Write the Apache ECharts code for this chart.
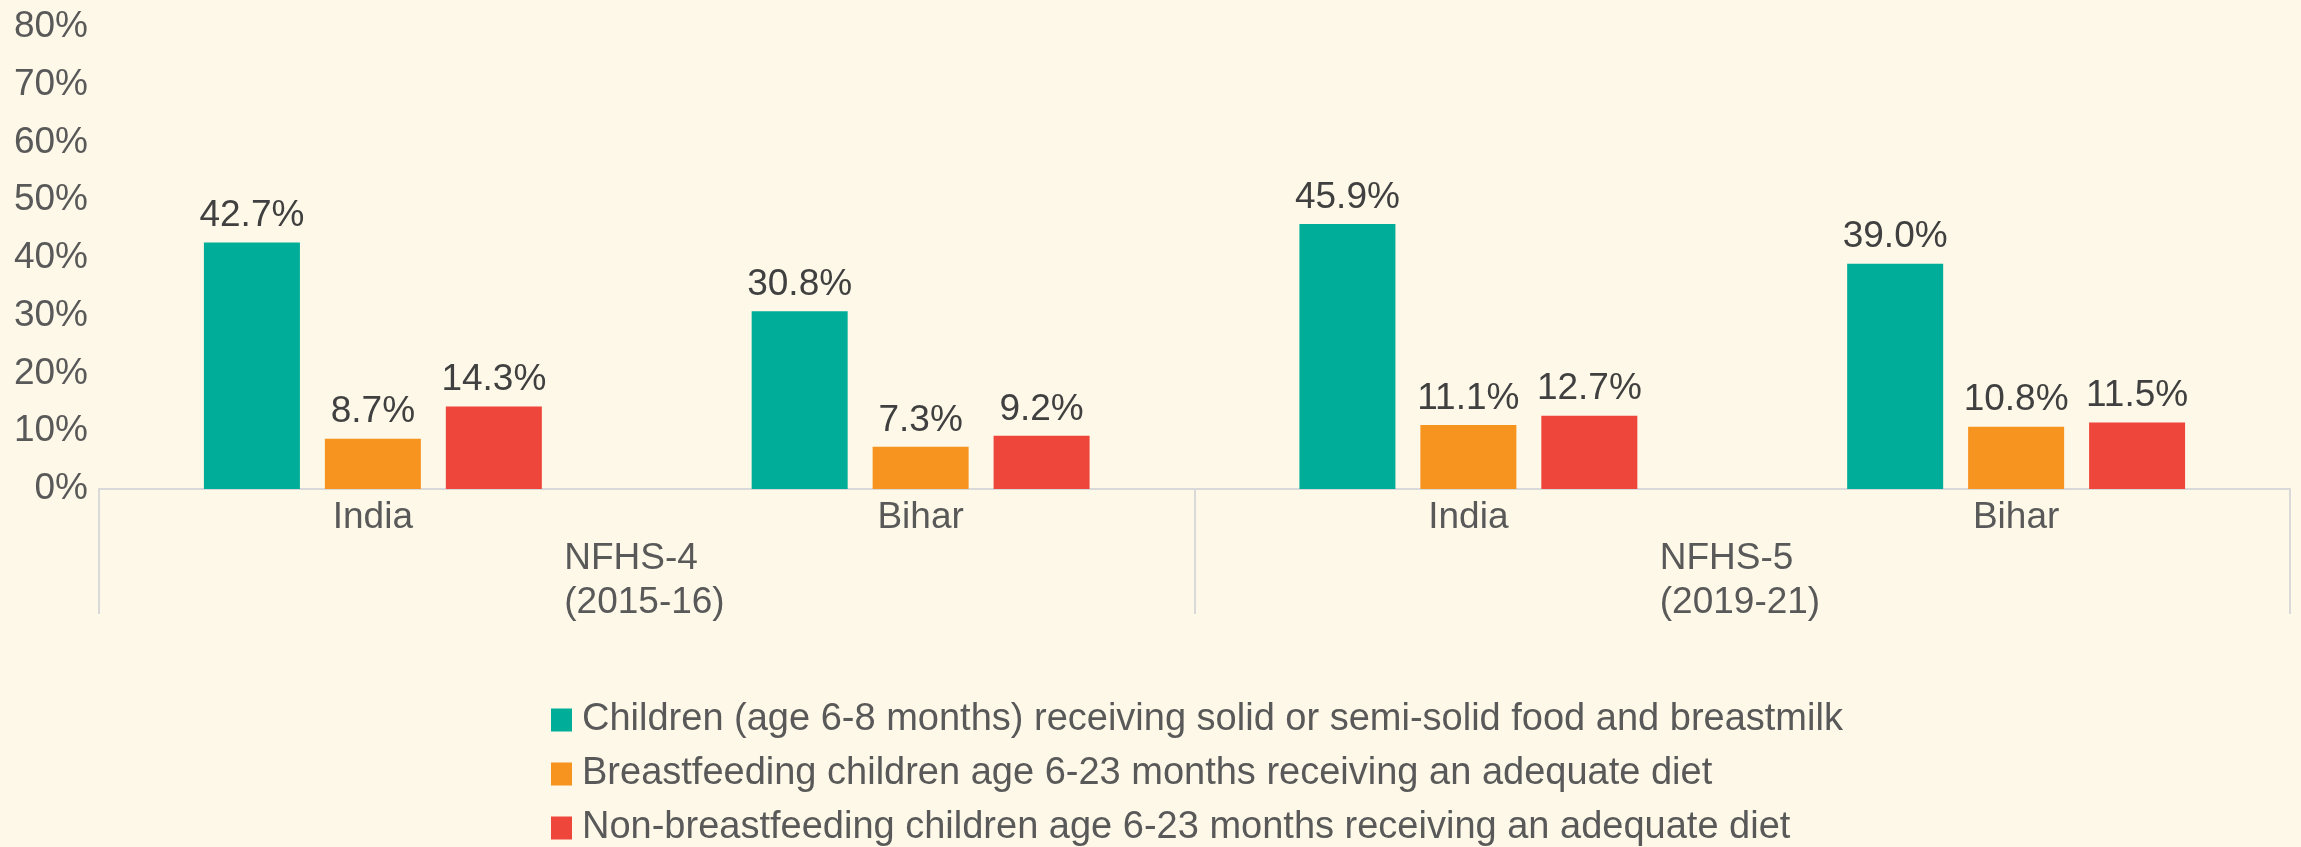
<!DOCTYPE html>
<html>
<head>
<meta charset="utf-8">
<script src="https://cdn.jsdelivr.net/npm/echarts@6/dist/echarts.min.js"></script>
<style>
html,body{margin:0;padding:0;background:#fdf8e7;}
#chart{width:2301px;height:847px;}
</style>
</head>
<body>
<div id="chart"></div>
<script>
const categories = ['India', 'Bihar', 'India', 'Bihar'];
const rounds = ['NFHS-4', 'NFHS-5'];
const periods = ['(2015-16)', '(2019-21)'];
const seriesNames = [
  'Children (age 6-8 months) receiving solid or semi-solid food and breastmilk',
  'Breastfeeding children age 6-23 months receiving an adequate diet',
  'Non-breastfeeding children age 6-23 months receiving an adequate diet'
];
const solidFood = [42.7, 30.8, 45.9, 39.0];
const breastfeedingDiet = [8.7, 7.3, 11.1, 10.8];
const nonBreastfeedingDiet = [14.3, 9.2, 12.7, 11.5];
const yTicks = [0, 10, 20, 30, 40, 50, 60, 70, 80];

const colors = ['#00ad98', '#f7931f', '#ef463c'];
const FONT = '"Liberation Sans", Arial, sans-serif';

const chart = echarts.init(document.getElementById('chart'));
const seriesData = [solidFood, breastfeedingDiet, nonBreastfeedingDiet];

chart.setOption({
  backgroundColor: '#fdf8e7',
  animation: false,
  textStyle: { fontFamily: FONT },
  color: colors,
  grid: { left: 99, right: 11, top: 27, bottom: 358, containLabel: false },
  legend: {
    orient: 'vertical',
    left: 551,
    top: 701,
    height: 300,
    padding: 0,
    itemWidth: 21,
    itemHeight: 23,
    itemGap: 16,
    icon: 'rect',
    textStyle: { fontSize: 38, lineHeight: 32, color: '#595959', fontFamily: FONT, padding: [0, 0, 0, 5] },
    data: seriesNames
  },
  xAxis: [
    {
      type: 'category',
      data: categories,
      position: 'bottom',
      axisLine: { show: true, lineStyle: { color: '#d9d9d9', width: 2 } },
      axisTick: { show: false },
      axisLabel: { margin: 11, fontSize: 37, lineHeight: 36, color: '#595959', fontFamily: FONT }
    },
    {
      type: 'category',
      data: rounds.map((r, i) => r + '\n' + periods[i]),
      position: 'bottom',
      axisLine: { show: false },
      axisTick: { show: true, length: 125, lineStyle: { color: '#d9d9d9', width: 2 } },
      axisLabel: {
        margin: 48,
        formatter: function (v) {
          return v.split('\n').map(s => '{a|' + s + '}').join('\n');
        },
        rich: { a: { width: 165, align: 'left', fontSize: 37, lineHeight: 44, color: '#595959', fontFamily: FONT } }
      }
    }
  ],
  yAxis: {
    type: 'value',
    min: 0,
    max: 80,
    interval: 10,
    axisLine: { show: false },
    axisTick: { show: false },
    splitLine: { show: false },
    axisLabel: {
      margin: 11,
      fontSize: 37,
      color: '#595959',
      fontFamily: FONT,
      formatter: function (v) { return yTicks.indexOf(v) >= 0 ? v + '%' : ''; }
    }
  },
  series: seriesNames.map((name, i) => ({
    name: name,
    type: 'bar',
    xAxisIndex: 0,
    data: seriesData[i],
    barWidth: 96,
    barGap: '26%',
    itemStyle: { color: colors[i] },
    label: {
      show: true,
      position: 'top',
      distance: 8,
      fontSize: 37,
      color: '#404040',
      fontFamily: FONT,
      formatter: function (p) { return p.value.toFixed(1) + '%'; }
    }
  }))
});
</script>
</body>
</html>
